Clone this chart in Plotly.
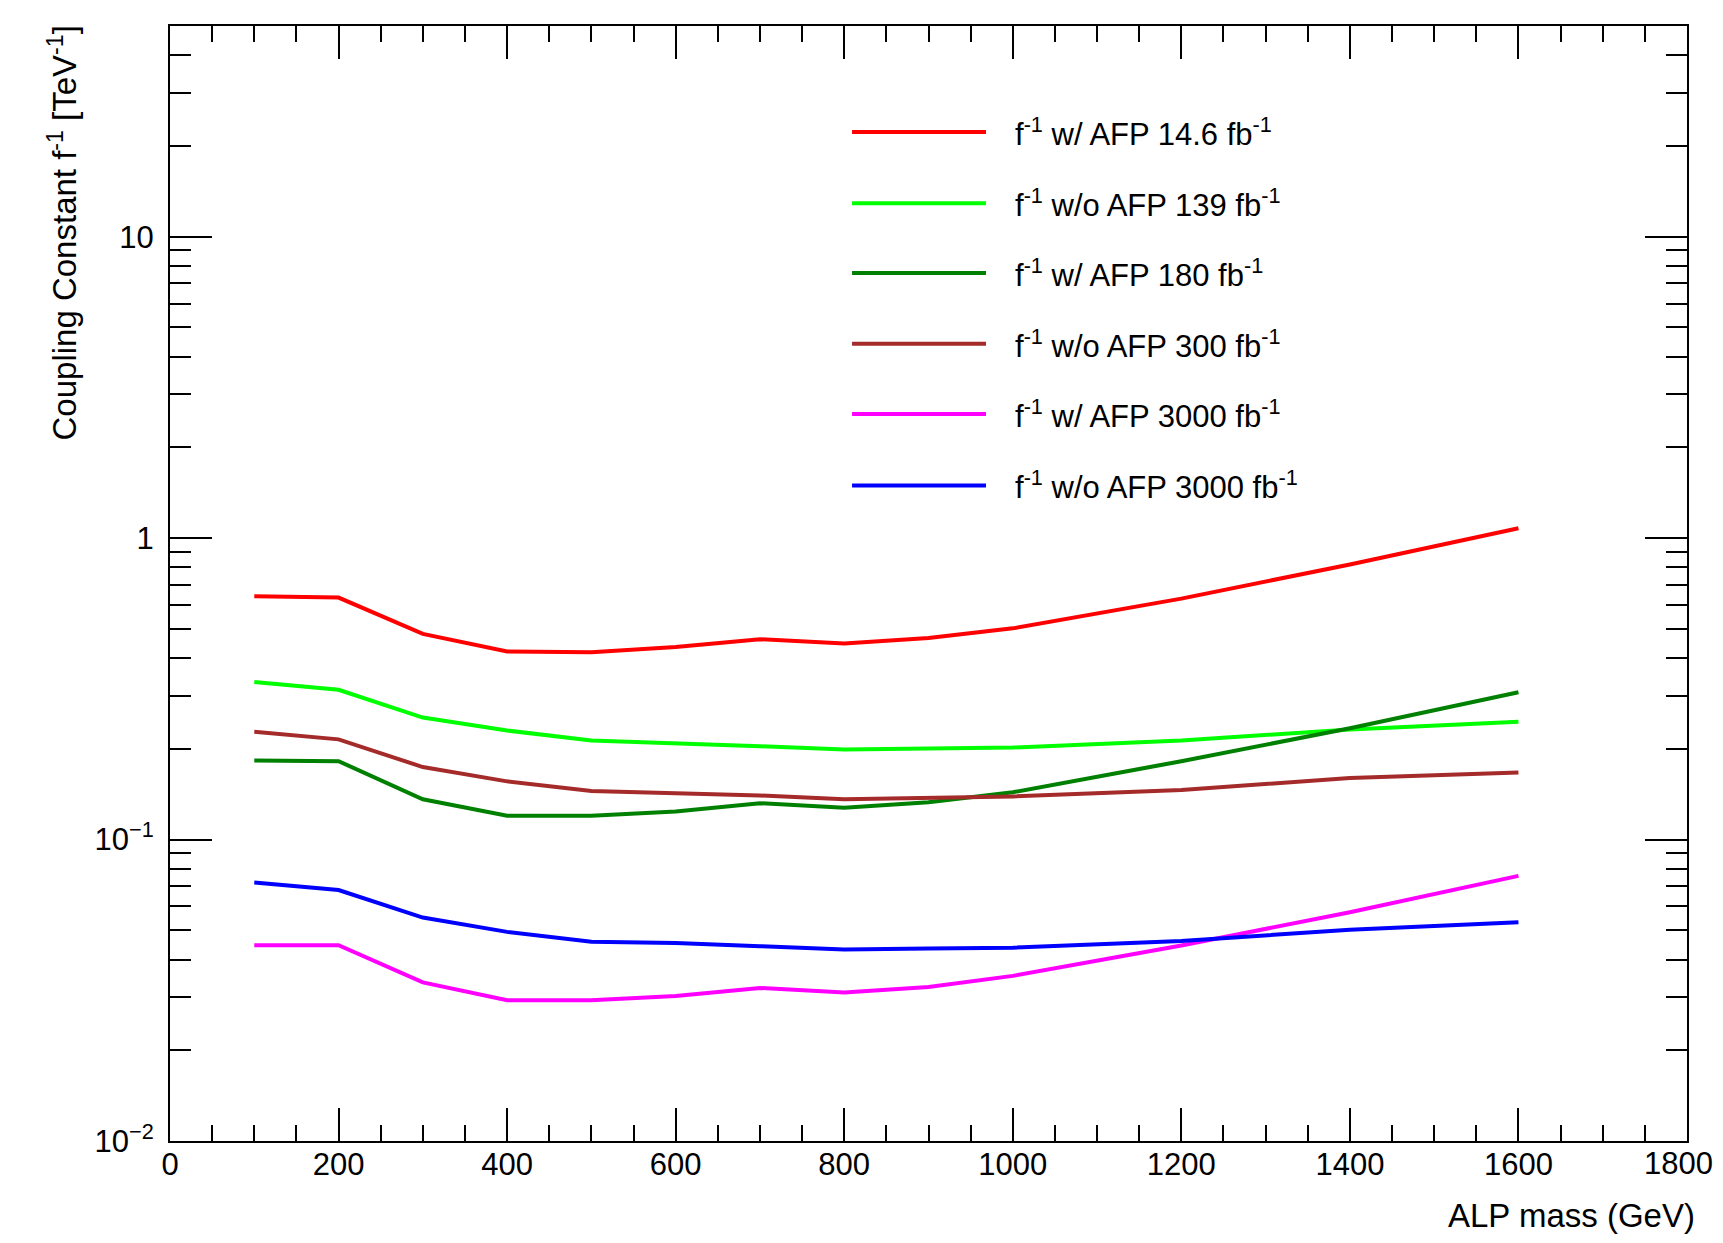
import plotly.graph_objects as go

mass = [100, 200, 300, 400, 500, 600, 700, 800, 900, 1000, 1200, 1400, 1600]

red_wAFP_14p6 = [0.641, 0.635, 0.481, 0.421, 0.418, 0.435, 0.462, 0.447, 0.466, 0.502, 0.630, 0.818, 1.079]
lgreen_woAFP_139 = [0.333, 0.314, 0.254, 0.230, 0.213, 0.209, 0.204, 0.199, 0.2005, 0.202, 0.213, 0.232, 0.246]
dgreen_wAFP_180 = [0.183, 0.182, 0.136, 0.120, 0.120, 0.124, 0.132, 0.1276, 0.133, 0.1435, 0.182, 0.234, 0.308]
brown_woAFP_300 = [0.228, 0.215, 0.174, 0.156, 0.145, 0.143, 0.140, 0.136, 0.137, 0.139, 0.146, 0.160, 0.167]
magenta_wAFP_3000 = [0.0446, 0.0446, 0.0336, 0.0293, 0.0293, 0.0303, 0.0322, 0.0311, 0.0324, 0.0353, 0.0445, 0.0574, 0.0758]
blue_woAFP_3000 = [0.0721, 0.0680, 0.0551, 0.0494, 0.0458, 0.0454, 0.0443, 0.0432, 0.0435, 0.0438, 0.0461, 0.0502, 0.0532]

labels = [
    "f<sup>-1</sup> w/ AFP 14.6 fb<sup>-1</sup>",
    "f<sup>-1</sup> w/o AFP 139 fb<sup>-1</sup>",
    "f<sup>-1</sup> w/ AFP 180 fb<sup>-1</sup>",
    "f<sup>-1</sup> w/o AFP 300 fb<sup>-1</sup>",
    "f<sup>-1</sup> w/ AFP 3000 fb<sup>-1</sup>",
    "f<sup>-1</sup> w/o AFP 3000 fb<sup>-1</sup>",
]
series = [red_wAFP_14p6, lgreen_woAFP_139, dgreen_wAFP_180, brown_woAFP_300, magenta_wAFP_3000, blue_woAFP_3000]
colors = ["#FF0000", "#00FF00", "#008000", "#A52A2A", "#FF00FF", "#0000FF"]

x_tick_vals = [0, 200, 400, 600, 800, 1000, 1200, 1400, 1600, 1800]
x_tick_text = [str(v) for v in x_tick_vals]
y_major_vals = [0.01, 0.1, 1, 10]
y_major_text = ["10<sup>−2</sup>", "10<sup>−1</sup>", "1", "10"]
y_minor_vals = [m * d for d in [0.01, 0.1, 1, 10] for m in range(2, 10) if m * d <= 50]

FONT = "Liberation Sans, Arial, sans-serif"

fig = go.Figure()
for ys, c, lab in zip(series, colors, labels):
    fig.add_trace(go.Scatter(x=mass, y=ys, mode="lines", name=lab,
                             line=dict(color=c, width=4), showlegend=False))

# manual legend (ROOT style)
legend_y = [0.905, 0.841, 0.7785, 0.715, 0.652, 0.588]
for c, lab, ly in zip(colors, labels, legend_y):
    fig.add_shape(type="line", xref="paper", yref="paper", x0=0.4496, x1=0.5379,
                  y0=ly, y1=ly, line=dict(color=c, width=4))
    fig.add_annotation(xref="paper", yref="paper", x=0.5557, y=ly, xanchor="left",
                       yanchor="middle", text=lab, showarrow=False,
                       font=dict(family=FONT, size=31, color="black"))

# last x tick label sits at the figure's right edge; draw it as text kept inside the page
axis_text = x_tick_text[:-1] + [""]
fig.add_annotation(xref="x", yref="paper", x=x_tick_vals[-1], y=0, xanchor="right",
                   yanchor="middle", xshift=28, yshift=-22, text=x_tick_text[-1],
                   showarrow=False, font=dict(family=FONT, size=31, color="black"))

fig.add_annotation(xref="paper", yref="paper", x=1, y=0, xanchor="right", yanchor="top",
                   xshift=10, yshift=-54, text="ALP mass (GeV)", showarrow=False,
                   font=dict(family=FONT, size=33, color="black"))
fig.add_annotation(xref="paper", yref="paper", x=0, y=1, xanchor="center", yanchor="top",
                   xshift=-108, yshift=2, textangle=-90,
                   text="Coupling Constant f<sup>-1</sup> [TeV<sup>-1</sup>]", showarrow=False,
                   font=dict(family=FONT, size=33, color="black"))

fig.update_xaxes(range=[0, 1800], tickvals=x_tick_vals, ticktext=axis_text,
                 ticks="inside", ticklen=33, tickwidth=2, tickcolor="black",
                 showline=True, linecolor="black", linewidth=2, mirror="ticks",
                 showgrid=False, zeroline=False, ticklabelstandoff=-5,
                 minor=dict(dtick=50, ticks="inside", ticklen=16, tickwidth=2, tickcolor="black", showgrid=False),
                 tickfont=dict(family=FONT, size=31, color="black"))
fig.update_yaxes(type="log", range=[-2, 1.699], tickvals=y_major_vals, ticktext=y_major_text,
                 ticks="inside", ticklen=42, tickwidth=2, tickcolor="black",
                 showline=True, linecolor="black", linewidth=2, mirror="ticks",
                 showgrid=False, zeroline=False, ticklabelstandoff=8,
                 minor=dict(tickvals=y_minor_vals, ticks="inside", ticklen=21, tickwidth=2,
                            tickcolor="black", showgrid=False),
                 tickfont=dict(family=FONT, size=31, color="black"))

# page body keeps its default 8px margin on every side, so the figure is 16px smaller than the window
fig.update_layout(width=1707, height=1227, plot_bgcolor="white", paper_bgcolor="white",
                  margin=dict(l=162, r=28, t=18, b=94), showlegend=False)

fig.write_html("out.html", config={"displayModeBar": False})
